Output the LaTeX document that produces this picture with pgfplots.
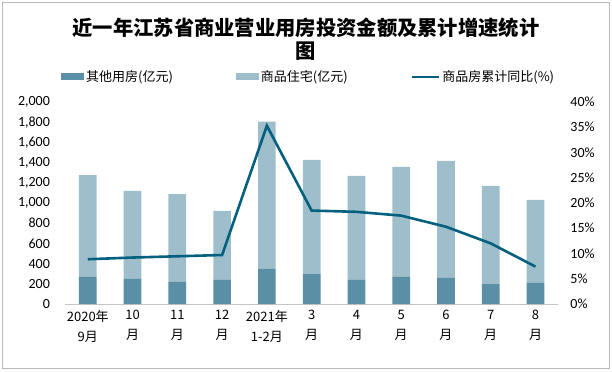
\documentclass[border=0pt]{standalone}
\usepackage{pgfplots}
\usepackage{pgfplotstable}
\pgfplotsset{compat=1.18}
\usepackage{fontspec}
\setmainfont{Carlito}
\newfontfamily\cjk{Noto Sans CJK SC}
\definecolor{darkbar}{HTML}{5B8FA5}
\definecolor{lightbar}{HTML}{9FBECB}
\definecolor{linec}{HTML}{04607F}
\pgfplotsset{
  boxlegend/.style={legend image code/.code={\fill[##1] (0bp,-3.5bp) rectangle (23bp,3.5bp);}},
  linelegend/.style={legend image code/.code={\draw[##1] (0bp,0bp) -- (27bp,0bp);}},
}
\pgfplotstableread{
x other res yoy
0 268 1008 8.86
1 248 872 9.2
2 218 870 9.45
3 238 684 9.7
4 347 1458 35.3
5 297 1131 18.5
6 238 1031 18.25
7 268 1090 17.5
8 258 1160 15.3
9 198 972 12.0
10 208 823 7.4
}\data
\begin{document}
\begin{tikzpicture}
\useasboundingbox (-65.4bp,-68bp) rectangle (546.6bp,304bp);
\draw[gray!55] (-62.9bp,-64.5bp) rectangle (543.6bp,301.5bp);
\begin{axis}[at={(0,0)}, anchor=south west, scale only axis,
  width=492.5bp, height=202bp,
  xmin=-0.5, xmax=10.5, ymin=0, ymax=2000,
  ybar stacked, bar width=17.7bp,
  xtick={0,...,10},
  xticklabels={{2020年\\9月},{10\\月},{11\\月},{12\\月},{2021年\\1-2月},{3\\月},{4\\月},{5\\月},{6\\月},{7\\月},{8\\月}},
  xticklabel style={align=center, font=\cjk\fontsize{13bp}{20bp}\selectfont, yshift=-3bp},
  ytick={0,200,...,2000},
  yticklabel style={font=\fontsize{14bp}{16bp}\selectfont, xshift=-12bp},
  /pgf/number format/1000 sep={,},
  /pgf/number format/assume math mode=true,
  axis y line*=left, axis x line*=bottom,
  y axis line style={draw=none},
  x axis line style={gray!45, -},
  major tick length=0pt,
]
\addplot[fill=darkbar, draw=none] table[x=x,y=other]{\data};
\addplot[fill=lightbar, draw=none] table[x=x,y=res]{\data};
\end{axis}
\begin{axis}[at={(0,0)}, anchor=south west, scale only axis,
  width=492.5bp, height=202bp,
  xmin=-0.5, xmax=10.5, ymin=0, ymax=40,
  ytick={0,5,...,40},
  yticklabel={\pgfmathprintnumber{\tick}\%},
  yticklabel style={font=\fontsize{14bp}{16bp}\selectfont, xshift=9bp},
  /pgf/number format/assume math mode=true,
  axis y line*=right, y axis line style={draw=none},
  hide x axis,
  major tick length=0pt,
  legend columns=3,
  legend style={at={(-0.0089,1.124)}, anchor=west, draw=none, fill=none, inner sep=0pt,
    font=\cjk\fontsize{13bp}{15bp}\selectfont,
    /tikz/every even column/.append style={column sep=61bp}},
]
\addlegendimage{boxlegend, fill=darkbar, draw=none}
\addlegendentry{其他用房(亿元)}
\addlegendimage{boxlegend, fill=lightbar, draw=none}
\addlegendentry{商品住宅(亿元)}
\addplot[linelegend, color=linec, line width=2.6bp, mark=none] table[x=x,y=yoy]{\data};
\addlegendentry{商品房累计同比(\%)}
\end{axis}
\node[font=\cjk\bfseries\fontsize{20.3bp}{23bp}\selectfont, align=center] at (240.6bp,264.5bp) {近一年江苏省商业营业用房投资金额及累计增速统计\\图};
\end{tikzpicture}
\end{document}
